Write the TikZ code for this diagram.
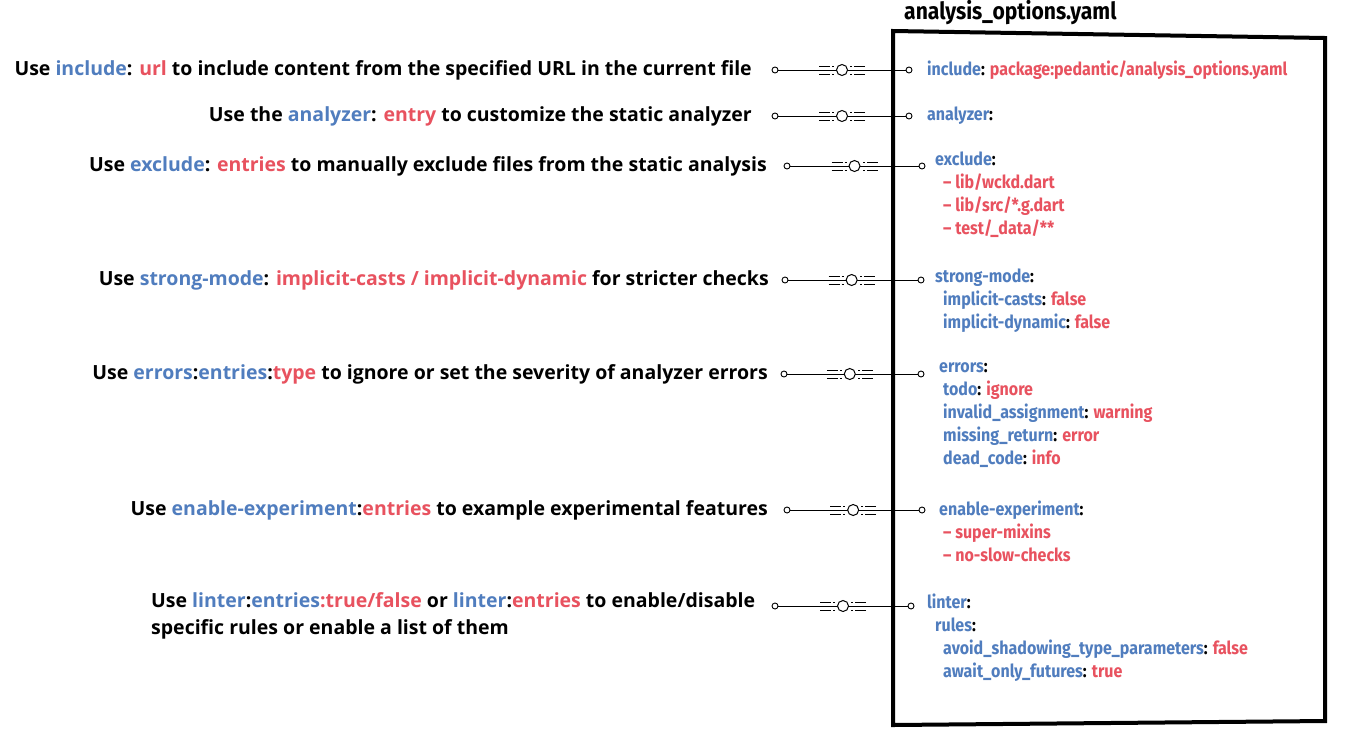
\documentclass[tikz,border=0pt]{standalone}
\usepackage{fontspec}
\usetikzlibrary{calc}
\setmainfont{Open Sans}
\newfontfamily\handfont[FakeStretch=0.89]{Fira Sans}
\definecolor{kblue}{RGB}{80,125,190}
\definecolor{kred}{RGB}{232,82,95}
\newcommand\kb[1]{\textcolor{kblue}{#1}}
\newcommand\kr[1]{\textcolor{kred}{#1}}
\tikzset{
  desc/.style={anchor=east, font=\fontsize{19.5}{24}\selectfont\bfseries, text=black, inner sep=0},
  yaml/.style={anchor=west, font=\handfont\fontsize{18}{23}\selectfont\bfseries, text=black, inner sep=0, align=left},
  dot/.style={circle, draw=black, fill=white, line width=0.9pt, minimum size=6pt, inner sep=0},
  conn/.style={line width=1pt, black},
  deco/.pic={
    \draw[line width=1pt] (-23,-4) -- (-12,-4) (-23,4) -- (-12,4) (-10,-4) -- (-8,-4) (-10,4)--(-8,4);
    \draw[line width=1pt] (23,-4) -- (12,-4) (23,4) -- (12,4) (10,-4) -- (8,-4) (10,4)--(8,4);
    \draw[line width=1pt, fill=white] (0,0) circle (5.5);
  }
}
\begin{document}
\begin{tikzpicture}[x=1pt,y=-1pt]
\useasboundingbox[fill=white] (0,0) rectangle (1372,740);
% box
\draw[line width=4pt, line join=miter] (893,31) -- (1325,38) -- (1325,721) -- (893,725) -- cycle;
\node[anchor=west, font=\handfont\fontsize{23.7}{28}\selectfont\bfseries, inner sep=0] (title) at (904,13) {analysis\_options.yaml};

% left descriptions
\node[desc] (t1) at (752,70) {Use \kb{include}: \kr{url} to include content from the specified URL in the current file};
\node[desc] (t2) at (752,116) {Use the \kb{analyzer}: \kr{entry} to customize the static analyzer};
\node[desc] (t3) at (767,166) {Use \kb{exclude}: \kr{entries} to manually exclude files from the static analysis};
\node[desc] (t4) at (769,280) {Use \kb{strong-mode}: \kr{implicit-casts / implicit-dynamic} for stricter checks};
\node[desc] (t5) at (768,374) {Use \kb{errors}:\kb{entries}:\kr{type} to ignore or set the severity of analyzer errors};
\node[desc] (t6) at (768,510) {Use \kb{enable-experiment}:\kr{entries} to example experimental features};
\node[desc, anchor=north west, align=left, font=\fontsize{19.5}{27}\selectfont\bfseries] (t7) at (151,592) {Use \kb{linter}:\kb{entries}\kr{:true/false} or \kb{linter}:\kr{entries} to enable/disable\\specific rules or enable a list of them};

% dots
\foreach \n/\xl/\xr/\yy in {1/775/909/70, 2/775/909/116, 3/787/922/166, 4/785/921/280, 5/784/921/374, 6/787/922/510, 7/775/911/606}{
  \node[dot] (l\n) at (\xl,\yy) {};
  \node[dot] (r\n) at (\xr,\yy) {};
}
\foreach \n/\f in {1/0.5, 2/0.5, 3/0.5, 4/0.49, 5/0.48, 6/0.49, 7/0.5}{
  \draw[conn] (l\n) -- (r\n);
  \path ($(l\n)!\f!(r\n)$) pic {deco};
}

% yaml content
\node[yaml] (y1) at (927,70) {\kb{include}: \kr{package:pedantic/analysis\_options.yaml}};
\node[yaml] (y2) at (927,116) {\kb{analyzer}:};
\node[yaml, anchor=north west] (y3) at (935,152) {\kb{exclude}:\\
\hspace*{8pt}\kr{– lib/wckd.dart}\\
\hspace*{8pt}\kr{– lib/src/*.g.dart}\\
\hspace*{8pt}\kr{– test/\_data/**}};
\node[yaml, anchor=north west] (y4) at (935,269) {\kb{strong-mode}:\\
\hspace*{8pt}\kb{implicit-casts}: \kr{false}\\
\hspace*{8pt}\kb{implicit-dynamic}: \kr{false}};
\node[yaml, anchor=north west] (y5) at (939,362) {\kb{errors}:\\
\hspace*{4pt}\kb{todo}: \kr{ignore}\\
\hspace*{4pt}\kb{invalid\_assignment}: \kr{warning}\\
\hspace*{4pt}\kb{missing\_return}: \kr{error}\\
\hspace*{4pt}\kb{dead\_code}: \kr{info}};
\node[yaml, anchor=north west] (y6) at (939,501) {\kb{enable-experiment}:\\
\hspace*{4pt}\kr{– super-mixins}\\
\hspace*{4pt}\kr{– no-slow-checks}};
\node[yaml, anchor=north west] (y7) at (927,594) {\kb{linter}:\\
\hspace*{8pt}\kb{rules}:\\
\hspace*{16pt}\kb{avoid\_shadowing\_type\_parameters}: \kr{false}\\
\hspace*{16pt}\kb{await\_only\_futures}: \kr{true}};
\end{tikzpicture}
\end{document}
